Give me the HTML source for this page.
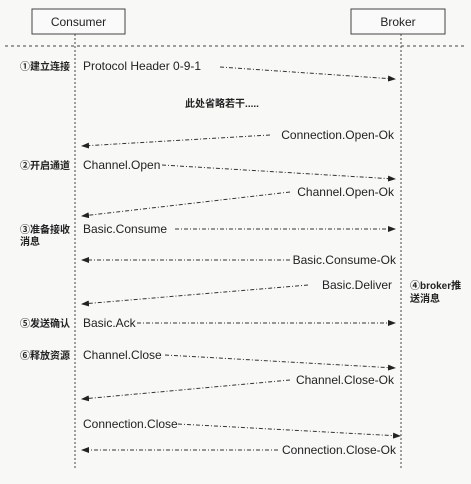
<!DOCTYPE html>
<html><head><meta charset="utf-8"><style>
html,body{margin:0;padding:0;background:#f8f8f6;}
svg{display:block;}
text{font-family:"Liberation Sans","Noto Sans CJK SC",sans-serif;fill:#222;}
.cn{font-size:10px;font-weight:bold;}
.l{font-size:12px;}
.a{stroke:#333;stroke-width:1;stroke-dasharray:4 2 1 2;fill:none;}
</style></head><body>
<svg width="471" height="484" viewBox="0 0 471 484">
<defs><marker id="m" markerWidth="8" markerHeight="6" refX="7" refY="3" orient="auto" markerUnits="userSpaceOnUse"><path d="M0,0 L8,3 L0,6z" fill="#222"/></marker></defs>
<rect x="32" y="9" width="93" height="25" fill="#fafafa" stroke="#444"/>
<text x="78.5" y="26" class="l" text-anchor="middle">Consumer</text>
<rect x="351" y="9" width="94" height="25" fill="#fafafa" stroke="#444"/>
<text x="398" y="26" class="l" text-anchor="middle">Broker</text>
<line x1="5" y1="46" x2="466" y2="46" stroke="#444" stroke-dasharray="3 3"/>
<line x1="75" y1="34" x2="75" y2="468" stroke="#444" stroke-dasharray="2 2"/>
<line x1="401" y1="34" x2="401" y2="468" stroke="#444" stroke-dasharray="2 2"/>
<text x="20" y="70" class="cn">①建立连接</text>
<text x="83" y="70" class="l">Protocol Header 0-9-1</text>
<line class="a" x1="220" y1="67" x2="395" y2="79" marker-end="url(#m)"/>
<text x="222" y="107" class="cn" text-anchor="middle">此处省略若干.....</text>
<text x="394" y="139" class="l" text-anchor="end">Connection.Open-Ok</text>
<line class="a" x1="270" y1="135" x2="82" y2="146" marker-end="url(#m)"/>
<text x="20" y="169" class="cn">②开启通道</text>
<text x="83" y="169" class="l">Channel.Open</text>
<line class="a" x1="162" y1="165" x2="395" y2="179" marker-end="url(#m)"/>
<text x="394" y="196" class="l" text-anchor="end">Channel.Open-Ok</text>
<line class="a" x1="290" y1="192" x2="82" y2="216" marker-end="url(#m)"/>
<text x="20" y="233" class="cn">③准备接收</text>
<text x="20" y="245" class="cn">消息</text>
<text x="83" y="233" class="l">Basic.Consume</text>
<line class="a" x1="175" y1="229" x2="395" y2="229" marker-end="url(#m)"/>
<text x="396" y="264" class="l" text-anchor="end">Basic.Consume-Ok</text>
<line class="a" x1="290" y1="260" x2="82" y2="260" marker-end="url(#m)"/>
<text x="392" y="289" class="l" text-anchor="end">Basic.Deliver</text>
<line class="a" x1="308" y1="285" x2="82" y2="304" marker-end="url(#m)"/>
<text x="410" y="289" class="cn">④broker推</text>
<text x="410" y="302" class="cn">送消息</text>
<text x="20" y="327" class="cn">⑤发送确认</text>
<text x="83" y="327" class="l">Basic.Ack</text>
<line class="a" x1="137" y1="323" x2="395" y2="323" marker-end="url(#m)"/>
<text x="20" y="359" class="cn">⑥释放资源</text>
<text x="83" y="359" class="l">Channel.Close</text>
<line class="a" x1="165" y1="355" x2="395" y2="368" marker-end="url(#m)"/>
<text x="394" y="384" class="l" text-anchor="end">Channel.Close-Ok</text>
<line class="a" x1="290" y1="380" x2="82" y2="399" marker-end="url(#m)"/>
<text x="83" y="428" class="l">Connection.Close</text>
<line class="a" x1="178" y1="424" x2="400" y2="436" marker-end="url(#m)"/>
<text x="396" y="454" class="l" text-anchor="end">Connection.Close-Ok</text>
<line class="a" x1="278" y1="450" x2="82" y2="450" marker-end="url(#m)"/>
</svg>
</body></html>
